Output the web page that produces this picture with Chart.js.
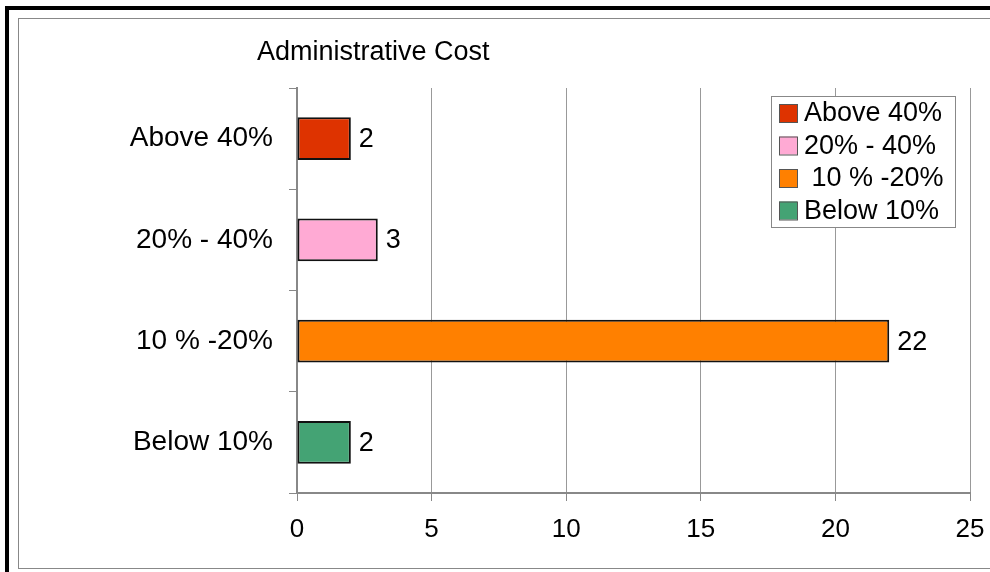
<!DOCTYPE html>
<html>
<head>
<meta charset="utf-8">
<script src="https://cdn.jsdelivr.net/npm/chart.js@4"></script>
<style>
  html, body { margin: 0; padding: 0; background: #fff; }
  body { width: 990px; height: 572px; position: relative; overflow: hidden; }
  .outer { position: absolute; left: 5px; top: 6px; width: 1100px; height: 700px; border: 4px solid #000; }
  .inner { position: absolute; left: 18px; top: 18px; width: 1100px; height: 549px; border: 1px solid #888; border-right: none; }
  #chart { position: absolute; left: 0; top: 0; }
</style>
</head>
<body>
<div class="outer"></div>
<div class="inner"></div>
<canvas id="chart" width="990" height="572"></canvas>
<script>
/* ── Data ─────────────────────────────────────────────────────────────── */
const categories = ['Above 40%', '20% - 40%', ' 10 % -20%', 'Below 10%'];
const counts     = [2, 3, 22, 2];
const barColors  = ['#de3300', '#ffaad4', '#ff8000', '#44a374'];
const xTicks     = [0, 5, 10, 15, 20, 25];
const titleText  = 'Administrative Cost';

const FONT = '"Liberation Sans", Arial, sans-serif';

/* ── Plugins ──────────────────────────────────────────────────────────── */
const extras = {
  id: 'extras',
  afterDatasetsDraw(chart) {
    const ctx = chart.ctx;
    ctx.save();
    ctx.fillStyle = '#000';
    ctx.font = `27px ${FONT}`;

    // title
    ctx.textAlign = 'left';
    ctx.textBaseline = 'middle';
    ctx.fillText(titleText, 257, 53);

    // value labels
    const meta = chart.getDatasetMeta(0);
    meta.data.forEach((bar, i) => {
      ctx.fillText(String(counts[i]), bar.x + 8, bar.y + 1);
    });

    // legend box
    const lx = 771, ly = 96, lw = 184, lh = 131;
    ctx.fillStyle = '#fff';
    ctx.fillRect(lx, ly, lw, lh);
    ctx.strokeStyle = '#888';
    ctx.lineWidth = 1;
    ctx.strokeRect(lx + 0.5, ly + 0.5, lw, lh);
    ctx.font = `27px ${FONT}`;
    categories.forEach((c, i) => {
      const cy = 113 + i * 32.5;
      ctx.fillStyle = barColors[i];
      ctx.fillRect(779, cy - 9, 18, 18);
      ctx.strokeStyle = '#555';
      ctx.strokeRect(779.5, cy - 8.5, 18, 18);
      ctx.fillStyle = '#000';
      ctx.fillText(c, 804, cy + 1);
    });
    ctx.restore();
  }
};

/* ── Chart ────────────────────────────────────────────────────────────── */
new Chart(document.getElementById('chart'), {
  type: 'bar',
  data: {
    labels: categories,
    datasets: [{
      data: counts,
      backgroundColor: barColors,
      borderColor: '#111',
      borderWidth: 2,
      borderSkipped: false,
      barPercentage: 0.42,
      categoryPercentage: 1,
    }],
  },
  options: {
    indexAxis: 'y',
    responsive: false,
    animation: false,
    layout: { padding: { top: 88, right: 20, left: 0, bottom: 0 } },
    plugins: {
      legend: { display: false },
      tooltip: { enabled: false },
      title: { display: false },
    },
    scales: {
      x: {
        min: 0, max: 25,
        afterBuildTicks: s => { s.ticks = xTicks.map(v => ({ value: v })); },
        afterFit: s => { s.height = 79; s.paddingLeft = 0; s.paddingRight = 0; },
        grid: { color: '#999', lineWidth: 1, tickLength: 8, tickColor: '#888' },
        border: { color: '#888', width: 2 },
        ticks: { color: '#000', font: { family: FONT, size: 26 }, padding: 13 },
      },
      y: {
        afterFit: s => { s.width = 297; s.paddingTop = 0; s.paddingBottom = 0; },
        grid: { drawOnChartArea: false, tickLength: 8, color: '#888', offset: true },
        border: { color: '#888', width: 2 },
        ticks: { color: '#000', font: { family: FONT, size: 28 }, padding: 16 },
      },
    },
  },
  plugins: [extras],
});
</script>
</body>
</html>
